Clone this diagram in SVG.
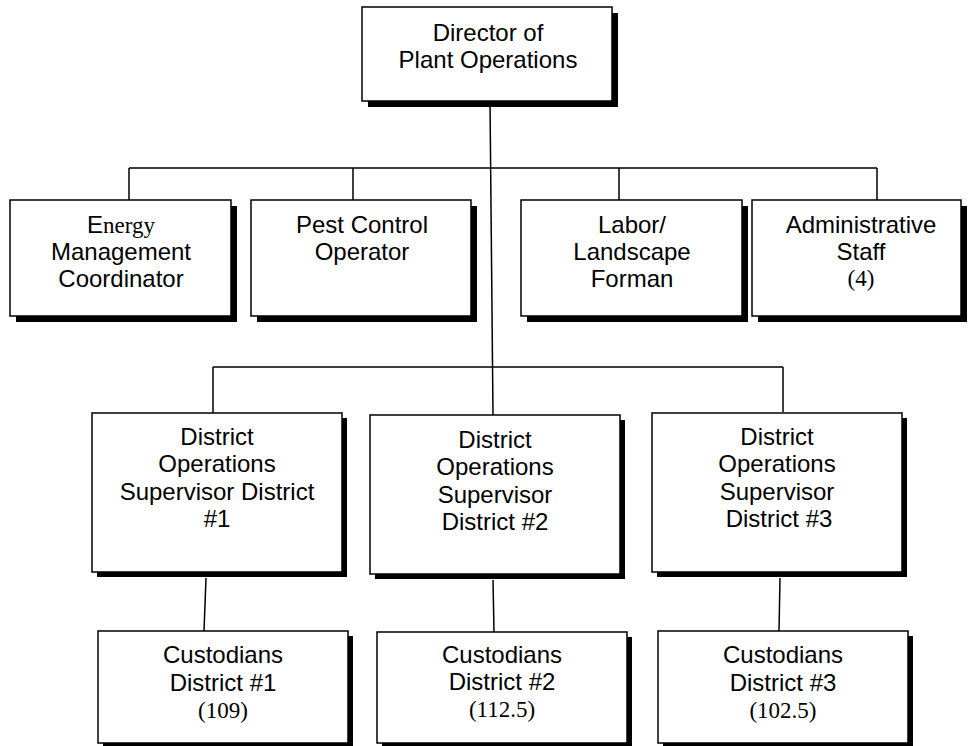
<svg xmlns="http://www.w3.org/2000/svg" width="968" height="746" viewBox="0 0 968 746">
  <style>
    .shadow { fill: #000; }
    .box { fill: #fff; stroke: #000; stroke-width: 1.5; }
    .wire { stroke: #000; stroke-width: 1.5; fill: none; }
    .t { font-family: "Liberation Sans", Arial, Helvetica, sans-serif; font-size: 24px; fill: #000; text-anchor: middle; }
    .s { font-family: "Liberation Serif", "Times New Roman", serif; font-size: 23px; }
  </style>
  <rect width="968" height="746" fill="#fff"/>

  <!-- reporting lines -->
  <g id="connectors">
    <path class="wire" d="M490 101 L493 415"/>
    <path class="wire" d="M129 168 H877 M129 168 V200 M353 168 V200 M619 168 V200 M877 168 V200"/>
    <path class="wire" d="M213 367 H783 M213 367 V413 M783 367 V412"/>
    <path class="wire" d="M206 578 L204 631 M493 580 L494 632 M780 578 L779 631"/>
  </g>

  <!-- head of department -->
  <g id="director">
    <rect class="shadow" x="368" y="13" width="250" height="94"/>
    <rect class="box" x="362" y="7" width="250" height="94"/>
    <text class="t" x="488" y="41">Director of</text>
    <text class="t" x="488" y="68">Plant Operations</text>
  </g>

  <!-- staff positions -->
  <g id="energy">
    <rect class="shadow" x="16" y="206" width="221" height="116"/>
    <rect class="box" x="10" y="200" width="221" height="116"/>
    <text class="t" x="121" y="233">E<tspan class="s">nergy</tspan></text>
    <text class="t" x="121" y="260">Management</text>
    <text class="t" x="121" y="287">Coordinator</text>
  </g>
  <g id="pest">
    <rect class="shadow" x="257" y="206" width="220" height="116"/>
    <rect class="box" x="251" y="200" width="220" height="116"/>
    <text class="t" x="362" y="233">Pest Control</text>
    <text class="t" x="362" y="260">Operator</text>
  </g>
  <g id="labor">
    <rect class="shadow" x="527" y="206" width="221" height="116"/>
    <rect class="box" x="521" y="200" width="221" height="116"/>
    <text class="t" x="632" y="233">Labor/</text>
    <text class="t" x="632" y="260">Landscape</text>
    <text class="t" x="632" y="287">Forman</text>
  </g>
  <g id="admin">
    <rect class="shadow" x="758" y="206" width="209" height="116"/>
    <rect class="box" x="752" y="200" width="209" height="116"/>
    <text class="t" x="861" y="233">Administrative</text>
    <text class="t" x="861" y="260">Staff</text>
    <text class="t s" x="861" y="286">(4)</text>
  </g>

  <!-- district supervisors -->
  <g id="district1">
    <rect class="shadow" x="97" y="418" width="250" height="159"/>
    <rect class="box" x="92" y="413" width="250" height="159"/>
    <text class="t" x="217" y="445">District</text>
    <text class="t" x="217" y="472">Operations</text>
    <text class="t" x="217" y="500">Supervisor District</text>
    <text class="t" x="217" y="527">#1</text>
  </g>
  <g id="district2">
    <rect class="shadow" x="375" y="420" width="250" height="159"/>
    <rect class="box" x="370" y="415" width="250" height="159"/>
    <text class="t" x="495" y="448">District</text>
    <text class="t" x="495" y="475">Operations</text>
    <text class="t" x="495" y="503">Supervisor</text>
    <text class="t" x="495" y="530">District #2</text>
  </g>
  <g id="district3">
    <rect class="shadow" x="657" y="418" width="250" height="159"/>
    <rect class="box" x="652" y="413" width="250" height="159"/>
    <text class="t" x="777" y="445">District</text>
    <text class="t" x="777" y="472">Operations</text>
    <text class="t" x="777" y="500">Supervisor</text>
    <text class="t" x="779" y="527">District #3</text>
  </g>

  <!-- custodial crews -->
  <g id="custodians1">
    <rect class="shadow" x="103" y="636" width="250" height="112"/>
    <rect class="box" x="98" y="631" width="250" height="112"/>
    <text class="t" x="223" y="663">Custodians</text>
    <text class="t" x="223" y="691">District #1</text>
    <text class="t s" x="223" y="718">(109)</text>
  </g>
  <g id="custodians2">
    <rect class="shadow" x="382" y="637" width="250" height="111"/>
    <rect class="box" x="377" y="632" width="250" height="111"/>
    <text class="t" x="502" y="663">Custodians</text>
    <text class="t" x="502" y="690">District #2</text>
    <text class="t s" x="502" y="717">(112.5)</text>
  </g>
  <g id="custodians3">
    <rect class="shadow" x="663" y="636" width="250" height="112"/>
    <rect class="box" x="658" y="631" width="250" height="112"/>
    <text class="t" x="783" y="663">Custodians</text>
    <text class="t" x="783" y="691">District #3</text>
    <text class="t s" x="783" y="718">(102.5)</text>
  </g>
</svg>
